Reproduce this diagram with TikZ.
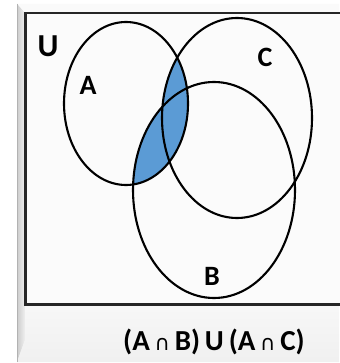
\documentclass[tikz,border=0pt]{standalone}
\usepackage{fontspec}
\setmainfont{Carlito}
\newfontfamily\symfont{DejaVu Sans}
\begin{document}
\begin{tikzpicture}[x=1pt,y=-1pt,
  setc/.style={draw=black,line width=2.1pt},
  lbl/.style={font=\bfseries\fontsize{28}{28}\selectfont,text=black,inner sep=0pt}]
\useasboundingbox (0,0) rectangle (339,363);
\fill[white] (0,0) rectangle (339,363);
% frame panel
\fill[gray!8] (17,4) rectangle (339,362);
\fill[gray!4] (17,4) -- (339,4) -- (339,13) -- (25,13) -- cycle;
\shade[left color=gray!40,right color=gray!12] (17,4) -- (25,13) -- (25,340) -- (17,362) -- cycle;
\shade[top color=gray!6,bottom color=gray!12] (25,305) -- (339,305) -- (339,362) -- (17,362) -- (25,340) -- cycle;
\draw[gray!60,line width=0.6pt] (17,4) -- (17,362);
% universe rectangle
\filldraw[fill=gray!3,draw=black!85,line width=2.2pt] (25.5,13) rectangle (350,304.5);
% shaded region A ∩ (B ∪ C)
\begin{scope}
  \clip (126,103.5) ellipse [x radius=62, y radius=81.5];
  \fill[fill={rgb,255:red,91;green,155;blue,213}] (237,118) ellipse [x radius=75, y radius=100];
  \fill[fill={rgb,255:red,91;green,155;blue,213}] (214,190) ellipse [x radius=81, y radius=108];
\end{scope}
% sets
\draw[setc] (126,103.5) ellipse [x radius=62, y radius=81.5];
\draw[setc] (237,118) ellipse [x radius=75, y radius=100];
\draw[setc] (214,190) ellipse [x radius=81, y radius=108];
% labels
\node[lbl,font=\bfseries\fontsize{32}{32}\selectfont] (U) at (48,46) {U};
\node[lbl] (A) at (88,85) {A};
\node[lbl] (C) at (265,57) {C};
\node[lbl] (B) at (212,276) {B};
\node[lbl,font=\bfseries\fontsize{29}{29}\selectfont] (cap) at (214,342) {(A\,{\mdseries\symfont\fontsize{21}{21}\selectfont ∩}\,B)\,U\,(A\,{\mdseries\symfont\fontsize{21}{21}\selectfont ∩}\,C)};
\end{tikzpicture}
\end{document}
